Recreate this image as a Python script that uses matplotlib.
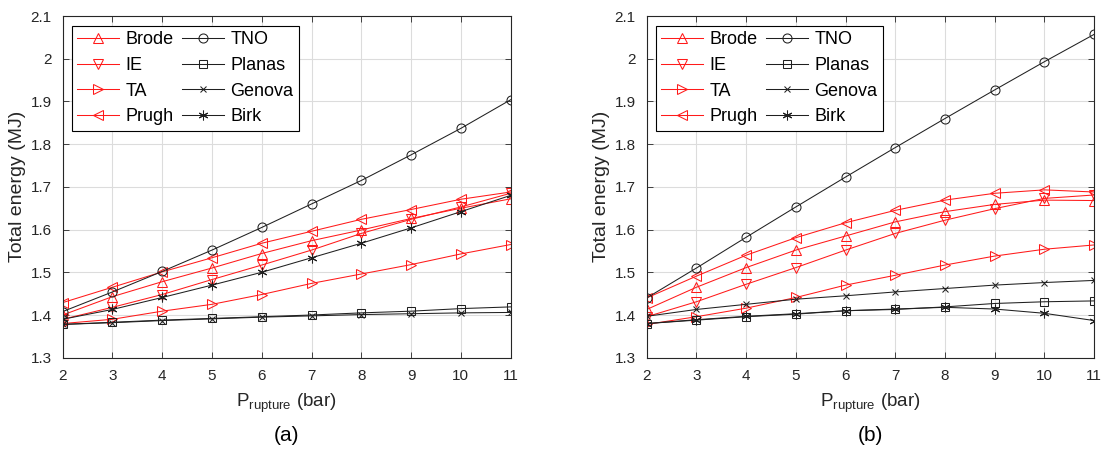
import numpy as np
import matplotlib.pyplot as plt

plt.rcParams['font.family'] = ['Liberation Sans', 'DejaVu Sans']

P = np.array([2, 3, 4, 5, 6, 7, 8, 9, 10, 11])

# (a)
brode_a  = [1.400, 1.443, 1.478, 1.510, 1.544, 1.574, 1.599, 1.626, 1.650, 1.672]
ie_a     = [1.390, 1.418, 1.448, 1.483, 1.517, 1.552, 1.591, 1.624, 1.653, 1.685]
ta_a     = [1.380, 1.390, 1.409, 1.425, 1.448, 1.474, 1.496, 1.518, 1.543, 1.565]
prugh_a  = [1.429, 1.465, 1.501, 1.534, 1.568, 1.596, 1.624, 1.647, 1.671, 1.688]
tno_a    = [1.408, 1.454, 1.502, 1.552, 1.605, 1.660, 1.715, 1.775, 1.837, 1.904]
planas_a = [1.378, 1.383, 1.388, 1.392, 1.396, 1.400, 1.405, 1.409, 1.415, 1.419]
genova_a = [1.378, 1.382, 1.387, 1.391, 1.395, 1.398, 1.401, 1.403, 1.405, 1.406]
birk_a   = [1.390, 1.413, 1.441, 1.470, 1.500, 1.534, 1.568, 1.604, 1.642, 1.680]

# (b)
brode_b  = [1.413, 1.465, 1.511, 1.552, 1.585, 1.618, 1.642, 1.659, 1.669, 1.668]
ie_b     = [1.396, 1.431, 1.472, 1.511, 1.552, 1.591, 1.622, 1.649, 1.673, 1.681]
ta_b     = [1.378, 1.396, 1.416, 1.441, 1.470, 1.493, 1.517, 1.538, 1.554, 1.564]
prugh_b  = [1.440, 1.491, 1.540, 1.581, 1.616, 1.645, 1.669, 1.685, 1.693, 1.688]
tno_b    = [1.440, 1.510, 1.582, 1.653, 1.723, 1.792, 1.860, 1.927, 1.993, 2.057]
planas_b = [1.380, 1.388, 1.396, 1.402, 1.410, 1.413, 1.419, 1.427, 1.431, 1.433]
genova_b = [1.397, 1.413, 1.425, 1.437, 1.445, 1.454, 1.462, 1.470, 1.476, 1.481]
birk_b   = [1.380, 1.389, 1.397, 1.403, 1.410, 1.414, 1.418, 1.414, 1.404, 1.387]

names   = ['Brode', 'IE', 'TA', 'Prugh', 'TNO', 'Planas', 'Genova', 'Birk']
markers = ['^', 'v', '>', '<', 'o', 's', 'x', (6, 2, 0)]
colors  = ['#ff1a1a'] * 4 + ['#202020'] * 4
msizes  = [7, 7, 7, 7, 6.5, 5.5, 5, 7]

data_a = [brode_a, ie_a, ta_a, prugh_a, tno_a, planas_a, genova_a, birk_a]
data_b = [brode_b, ie_b, ta_b, prugh_b, tno_b, planas_b, genova_b, birk_b]

fig = plt.figure(figsize=(11.01, 4.49), dpi=100)
ax1 = fig.add_axes([0.0569, 0.2033, 0.4069, 0.761])
ax2 = fig.add_axes([0.5874, 0.2033, 0.4063, 0.761])

dark = '#262626'
for ax, data, lab in [(ax1, data_a, '(a)'), (ax2, data_b, '(b)')]:
    for y, n, m, c, ms in zip(data, names, markers, colors, msizes):
        ax.plot(P, y, color=c, marker=m, markersize=ms, markerfacecolor='none',
                markeredgecolor=c, markeredgewidth=0.75, linewidth=0.75, label=n)
    ax.set_xlim(2, 11)
    ax.set_ylim(1.3, 2.1)
    ax.set_xticks(P)
    ax.set_yticks(np.arange(1.3, 2.101, 0.1))
    ax.set_yticklabels(['1.3', '1.4', '1.5', '1.6', '1.7', '1.8', '1.9', '2', '2.1'])
    ax.grid(True, color='#dcdcdc', linewidth=0.8)
    ax.set_axisbelow(True)
    ax.tick_params(direction='in', top=True, right=True, labelsize=11,
                   colors=dark, length=4, width=0.6, pad=8)
    for s in ax.spines.values():
        s.set_color(dark)
        s.set_linewidth(0.8)
    ax.set_xlabel('P$_{\\mathregular{rupture}}$ (bar)', fontsize=13.5, color=dark, labelpad=6)
    ax.set_ylabel('Total energy (MJ)', fontsize=14, color=dark, labelpad=3)
    leg = ax.legend(ncol=2, loc='upper left', bbox_to_anchor=(0.0208, 0.9707),
                    borderaxespad=0, fontsize=13, fancybox=False, framealpha=1,
                    edgecolor='#000000', handlelength=2.3, handletextpad=0.35,
                    columnspacing=0.5, labelspacing=0.48, borderpad=0.3)
    leg.get_frame().set_linewidth(0.8)
    pos = ax.get_position()
    fig.text(pos.x0 + pos.width / 2, 0.008, lab, ha='center', va='bottom',
             fontsize=15, color='#000000')

fig.savefig('out.png', dpi=100)
